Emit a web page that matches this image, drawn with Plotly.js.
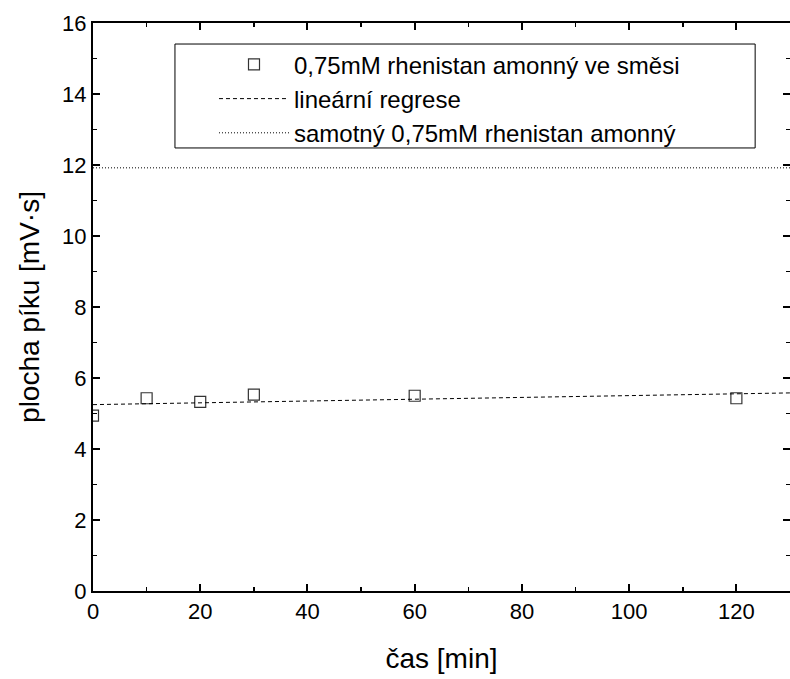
<!DOCTYPE html>
<html>
<head>
<meta charset="utf-8">
<script src="https://cdn.plot.ly/plotly-3.0.1.min.js"></script>
<style>html,body{margin:0;padding:0;background:#fff;}</style>
</head>
<body>
<div id="chart" style="width:790px;height:679px;"></div>
<script>
// measured points
const timeMin = [0, 10, 20, 30, 60, 120];
const peakArea = [4.94, 5.43, 5.33, 5.53, 5.5, 5.43];
// linear regression line (endpoints)
const regX = [0, 130];
const regY = [5.25, 5.58];
// pure 0.75 mM ammonium perrhenate reference level
const refX = [0, 130];
const refY = [11.92, 11.92];

const names = [
  '0,75mM rhenistan amonný ve směsi',
  'lineární regrese',
  'samotný 0,75mM rhenistan amonný'
];

const FAM = 'Liberation Sans, Arial, sans-serif';

const traces = [
  {x: timeMin, y: peakArea, name: names[0], mode: 'markers', type: 'scatter',
   marker: {symbol: 'square-open', size: 11, color: '#333', line: {width: 1.2, color: '#333'}},
   cliponaxis: true},
  {x: regX, y: regY, name: names[1], mode: 'lines', type: 'scatter',
   line: {color: '#000', width: 1, dash: '4px,3px'}},
  {x: refX, y: refY, name: names[2], mode: 'lines', type: 'scatter',
   line: {color: '#000', width: 1, dash: '1px,2px'}}
];

const axisFont = {family: FAM, size: 22, color: '#000'};
const layout = {
  width: 790, height: 679,
  margin: {l: 93, r: 0, t: 23, b: 88},
  paper_bgcolor: '#fff', plot_bgcolor: '#fff',
  showlegend: true,
  font: {family: FAM, color: '#000'},
  xaxis: {
    range: [0, 130], tickvals: [0, 20, 40, 60, 80, 100, 120],
    ticks: 'inside', ticklen: 7, tickwidth: 2, tickcolor: '#000',
    minor: {dtick: 10, ticks: 'inside', ticklen: 4, tickwidth: 1.5, tickcolor: '#000'},
    showline: true, linewidth: 2, linecolor: '#000', mirror: 'ticks',
    showgrid: false, zeroline: false,
    tickfont: axisFont,
    title: {text: 'čas [min]', font: {family: FAM, size: 28, color: '#000'}, standoff: 25}
  },
  yaxis: {
    range: [0, 16], dtick: 2,
    ticks: 'inside', ticklen: 7, tickwidth: 2, tickcolor: '#000',
    minor: {dtick: 1, ticks: 'inside', ticklen: 4, tickwidth: 1.5, tickcolor: '#000'},
    showline: true, linewidth: 2, linecolor: '#000', mirror: 'ticks',
    showgrid: false, zeroline: false,
    tickfont: axisFont,
    title: {text: 'plocha píku [mV·s]', font: {family: FAM, size: 28, color: '#000'}, standoff: 14}
  },
  shapes: [{
    type: 'rect', xref: 'paper', yref: 'paper',
    x0: 0.1176, x1: 0.950, y0: 0.780, y1: 0.963,
    line: {color: '#000', width: 1}, fillcolor: '#fff', layer: 'above'
  }],
  legend: {
    x: 0.1736, xanchor: 'left', y: 0.966, yanchor: 'top',
    bgcolor: 'rgba(0,0,0,0)', borderwidth: 0,
    font: {family: FAM, size: 24, color: '#000'},
    itemwidth: 70, tracegroupgap: 0
  }
};

Plotly.newPlot('chart', traces, layout, {staticPlot: true});
</script>
</body>
</html>
